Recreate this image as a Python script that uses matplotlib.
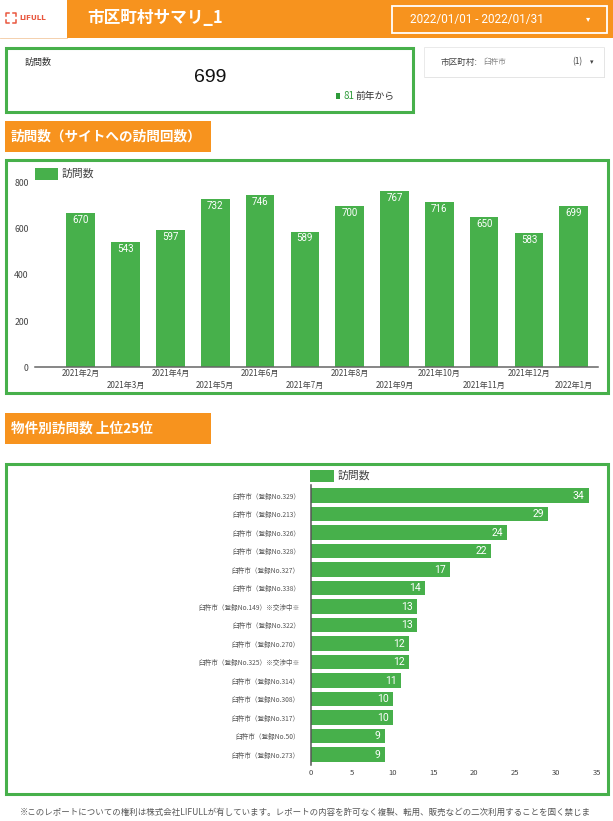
import matplotlib
matplotlib.use("Agg")
import matplotlib.pyplot as plt
from matplotlib.patches import Rectangle

plt.rcParams['font.family'] = ['Noto Sans CJK JP', 'DejaVu Sans']

# --- data ---
months = ["2021年2月", "2021年3月", "2021年4月", "2021年5月", "2021年6月", "2021年7月",
          "2021年8月", "2021年9月", "2021年10月", "2021年11月", "2021年12月", "2022年1月"]
visits = [670, 543, 597, 732, 746, 589, 700, 767, 716, 650, 583, 699]

props = ["臼杵市（登録No.329）", "臼杵市（登録No.213）", "臼杵市（登録No.326）",
         "臼杵市（登録No.328）", "臼杵市（登録No.327）", "臼杵市（登録No.338）",
         "臼杵市（登録No.149）※交渉中※", "臼杵市（登録No.322）", "臼杵市（登録No.270）",
         "臼杵市（登録No.325）※交渉中※", "臼杵市（登録No.314）", "臼杵市（登録No.308）",
         "臼杵市（登録No.317）", "臼杵市（登録No.50）", "臼杵市（登録No.273）"]
prop_visits = [34, 29, 24, 22, 17, 14, 13, 13, 12, 12, 11, 10, 10, 9, 9]

kpi_value = 699
kpi_delta = 81

ORANGE = "#f7931e"
GREEN = "#47b04b"
W, H = 613, 821

fig = plt.figure(figsize=(W / 100, H / 100), dpi=100)

# overlay axes in pixel coords for boxes and header
bg = fig.add_axes([0, 0, 1, 1])
bg.set_xlim(0, W)
bg.set_ylim(H, 0)
bg.axis("off")


def px_axes(x0, y0, x1, y1):
    return fig.add_axes([x0 / W, 1 - y1 / H, (x1 - x0) / W, (y1 - y0) / H])


# header
bg.add_patch(Rectangle((67, 0), W - 67, 38, color=ORANGE, lw=0))
bg.plot([0, 67], [38.5, 38.5], color="#f3c9a0", lw=0.6)
logo_c = "#e9573f"
for cx, cy, dx, dy in [(6, 13, 1, 1), (16, 13, -1, 1), (6, 23, 1, -1), (16, 23, -1, -1)]:
    bg.plot([cx + 3 * dx, cx, cx], [cy, cy, cy + 3 * dy], color=logo_c, lw=1.1)
bg.text(19, 18.5, "LIFULL", color=logo_c, fontsize=5.2, fontweight="bold",
        family="DejaVu Sans", va="center")
bg.text(87, 18, "市区町村サマリ_1", color="white", fontsize=12, fontweight="bold", va="center")
bg.add_patch(Rectangle((392, 6), 215, 27, fill=False, ec="white", lw=1.3))
bg.text(410, 19.5, "2022/01/01 - 2022/01/31", color="white", fontsize=8.5,
        family=["Roboto", "DejaVu Sans"], va="center")
bg.text(588, 19, "▾", color="white", fontsize=6, family="DejaVu Sans", va="center", ha="center")

# KPI box
bg.add_patch(Rectangle((6, 48), 407, 64, fill=False, ec=GREEN, lw=2.2))
bg.text(25, 62, "訪問数", fontsize=6.5, color="#333", va="center")
bg.text(210, 78, str(kpi_value), fontsize=14, color="#111", va="center", ha="center",
        family=["Liberation Sans", "DejaVu Sans"])
bg.add_patch(Rectangle((335.5, 93), 4, 6, color="#2e9b3a", lw=0))
bg.text(343, 96, str(kpi_delta), fontsize=7, color="#2e9b3a", va="center")
bg.text(356, 96, "前年から", fontsize=7, color="#333", va="center")

# filter box
bg.add_patch(Rectangle((425, 48.5), 180, 30, color="#c8c8c8", lw=0))
bg.add_patch(Rectangle((424, 47), 180, 30, fc="white", ec="#e6e6e6", lw=0.6))
bg.text(441, 62, "市区町村:", fontsize=6.2, color="#444", va="center")
bg.text(483, 62, "臼杵市", fontsize=5.5, color="#888", va="center")
bg.text(572, 62, "(1)", fontsize=6, color="#444", va="center")
bg.text(592, 62, "▾", fontsize=5, color="#444", va="center", ha="center", family="DejaVu Sans")

# section headers
bg.add_patch(Rectangle((4.5, 121), 206.5, 31, color=ORANGE, lw=0))
bg.text(11, 136.5, "訪問数（サイトへの訪問回数）", color="white", fontsize=9.8,
        fontweight="bold", va="center")
bg.add_patch(Rectangle((4.5, 413), 206.5, 31, color=ORANGE, lw=0))
bg.text(11, 428.5, "物件別訪問数 上位25位", color="white", fontsize=9.8,
        fontweight="bold", va="center")

# chart boxes
bg.add_patch(Rectangle((6, 160), 602, 233, fill=False, ec=GREEN, lw=2.2))
bg.add_patch(Rectangle((6, 464), 602, 330, fill=False, ec=GREEN, lw=2.2))

# legends
bg.add_patch(Rectangle((35, 168), 23, 12, color=GREEN, lw=0))
bg.text(62, 174, "訪問数", fontsize=7.8, color="#444", va="center")
bg.add_patch(Rectangle((310, 470), 24, 12, color=GREEN, lw=0))
bg.text(338, 476, "訪問数", fontsize=7.8, color="#444", va="center")

# footer
bg.text(20, 812, "※このレポートについての権利は株式会社LIFULLが有しています。レポートの内容を許可なく複製、転用、販売などの二次利用することを固く禁じま",
        fontsize=6.1, color="#555", va="center")

# --- monthly bar chart ---
ax1 = px_axes(35, 183, 598, 367)
xs = range(len(months))
ax1.bar(xs, visits, width=0.64, color=GREEN)
ax1.set_xlim(-1.02, 11.54)
ax1.set_ylim(0, 800)
ax1.set_yticks([0, 200, 400, 600, 800])
ax1.tick_params(axis="y", length=0, pad=4.5, labelsize=6.3, labelcolor="#444")
ax1.set_xticks([])
for s in ["top", "right", "left"]:
    ax1.spines[s].set_visible(False)
ax1.spines["bottom"].set_color("#666")
ax1.spines["bottom"].set_linewidth(1.1)
ax1.patch.set_alpha(0)
for i, v in enumerate(visits):
    ax1.annotate(str(v), (i, v), xytext=(0, -5), textcoords="offset points",
                 ha="center", va="center", color="white", fontsize=7,
                 family=["Roboto", "DejaVu Sans"])
for i, m in enumerate(months):
    off = -4.3 if i % 2 == 0 else -13.6
    ax1.annotate(m, (i, 0), xycoords=("data", "axes fraction"), xytext=(0, off),
                 textcoords="offset points", ha="center", va="center",
                 fontsize=5.8, color="#444", annotation_clip=False)

# --- property bar chart ---
ax2 = px_axes(311, 485, 597, 765)
ys = range(len(props))
ax2.barh(ys, prop_visits, height=0.78, color=GREEN)
ax2.set_xlim(0, 35)
ax2.set_ylim(14.56, -0.57)
ax2.set_yticks(list(ys))
ax2.set_yticklabels(props)
ax2.tick_params(axis="y", length=0, pad=8, labelsize=4.8, labelcolor="#555")
ax2.set_xticks([0, 5, 10, 15, 20, 25, 30, 35])
ax2.tick_params(axis="x", length=0, pad=3, labelsize=5.5, labelcolor="#444")
for s in ["top", "right", "bottom"]:
    ax2.spines[s].set_visible(False)
ax2.spines["left"].set_color("#555")
ax2.spines["left"].set_linewidth(1.1)
ax2.patch.set_alpha(0)
for i, v in enumerate(prop_visits):
    ax2.annotate(str(v), (v, i), xytext=(-3, 0), textcoords="offset points",
                 ha="right", va="center", color="white", fontsize=7.5,
                 family=["Roboto", "DejaVu Sans"])

fig.savefig("out.png", dpi=100)
